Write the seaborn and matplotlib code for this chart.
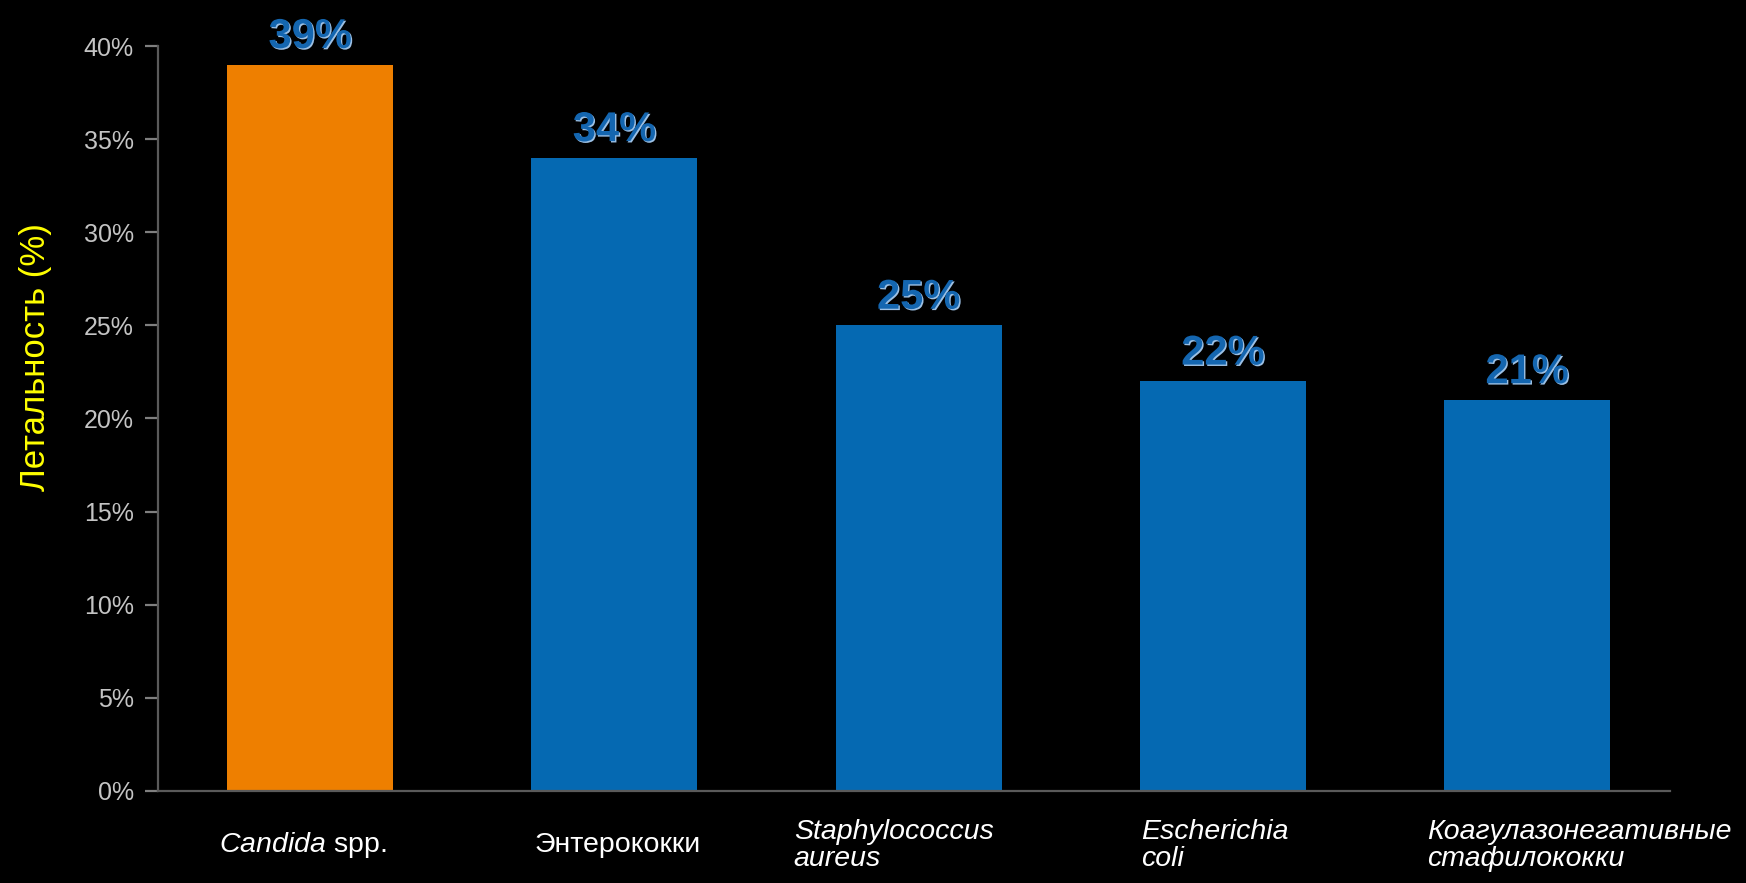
import matplotlib
matplotlib.use("Agg")
import matplotlib.pyplot as plt
import matplotlib.patheffects as pe
import matplotlib.transforms as mtransforms
import pandas as pd
import seaborn as sns

# --- data -------------------------------------------------------------
pathogens = ["Candida spp.", "Энтерококки", "Staphylococcus aureus",
             "Escherichia coli", "Коагулазонегативные стафилококки"]
mortality = [39, 34, 25, 22, 21]
y_ticks = [0, 5, 10, 15, 20, 25, 30, 35, 40]
y_tick_labels = [f"{v}%" for v in y_ticks]
y_title = "Летальность (%)"
category_text = [r"$\mathit{Candida}$ spp.", "Энтерококки",
                 "Staphylococcus\naureus", "Escherichia\ncoli",
                 "Коагулазонегативные\nстафилококки"]

# --- styling ----------------------------------------------------------
bar_colors = ["#EE7F00", "#0569B2", "#0569B2", "#0569B2", "#0569B2"]
label_italic = [False, False, True, True, True]
label_align = ["center", "center", "left", "left", "left"]
label_shift = [-0.026, 0.01, -0.41, -0.27, -0.33]

sns.set_theme(style="dark")
plt.rcParams["font.family"] = ["Liberation Sans", "DejaVu Sans"]
plt.rcParams["mathtext.fontset"] = "custom"
plt.rcParams["mathtext.rm"] = "Liberation Sans"
plt.rcParams["mathtext.it"] = "Liberation Sans:italic"

df = pd.DataFrame({"pathogen": pathogens, "mortality": mortality})

fig = plt.figure(figsize=(17.46, 8.83), dpi=100, facecolor="black")
ax = fig.add_axes([0.0905, 0.1042, 0.866, 0.8437])
ax.set_facecolor("black")

sns.barplot(data=df, x="pathogen", y="mortality", hue="pathogen",
            palette=bar_colors, legend=False, width=0.546, saturation=1,
            ax=ax, linewidth=0)

ax.set_ylim(0, 40)
ax.set_xlim(-0.5, 4.47)
ax.grid(False)

for side in ("top", "right"):
    ax.spines[side].set_visible(False)
for side in ("left", "bottom"):
    ax.spines[side].set_visible(True)
    ax.spines[side].set_color("#5a5a5a")
    ax.spines[side].set_linewidth(1.6)

ax.set_yticks(y_ticks)
ax.set_yticklabels(y_tick_labels)
ax.tick_params(axis="y", direction="out", length=9.5, width=1.6,
               color="#7f7f7f", labelcolor="#c4c4c4", labelsize=18, pad=8,
               left=True)
ax.set_xticks(range(len(pathogens)))
ax.set_xticklabels([])
ax.tick_params(axis="x", length=0)
ax.set_xlabel("")

ax.set_ylabel(y_title, color="#FFFF00", fontsize=25)
ax.yaxis.set_label_coords(-0.070, 0.583)

# value labels above bars
shadow = [pe.SimplePatchShadow(offset=(1.0, -1.0), shadow_rgbFace="#9cc0e4",
                               alpha=1.0), pe.Normal()]
for i, v in enumerate(mortality):
    ax.annotate(f"{v}%", xy=(i, v), xytext=(0, 12), textcoords="offset points",
                ha="center", va="baseline", fontsize=30, fontweight="bold",
                color="#1466B0", path_effects=shadow)

# category names under the axis
trans = mtransforms.blended_transform_factory(ax.transData, ax.transAxes)
for i, txt in enumerate(category_text):
    ax.text(i + label_shift[i], -0.0725, txt, transform=trans,
            ha=label_align[i], va="center", multialignment="left",
            fontsize=20.5, color="white", linespacing=1.05,
            fontstyle="italic" if label_italic[i] else "normal",
            clip_on=False)

fig.savefig("out.png", dpi=100, facecolor="black")
